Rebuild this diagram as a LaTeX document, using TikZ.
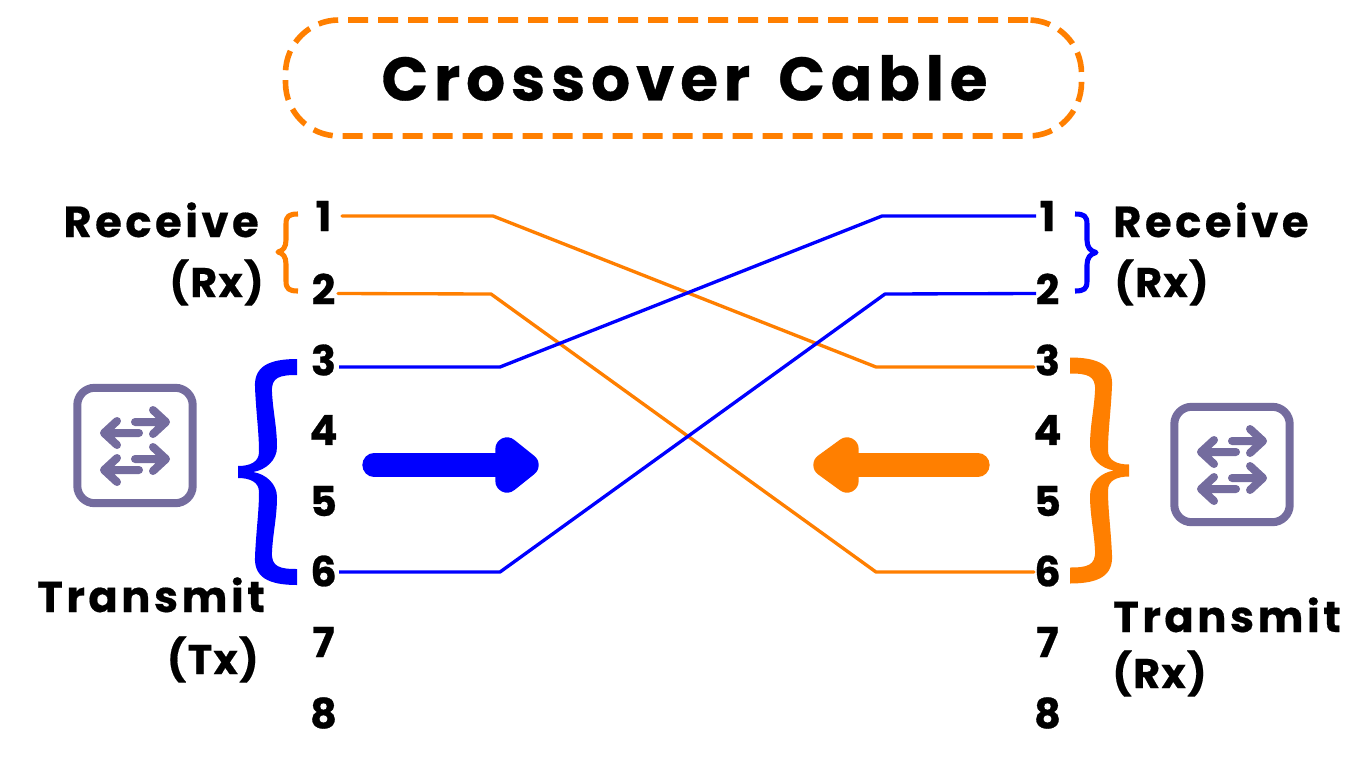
\documentclass[tikz,border=0pt]{standalone}
\usepackage{fontspec}
\setmainfont{Poppins}
\newfontfamily\titlefont[LetterSpace=9.5,WordSpace=1.5,Ligatures=NoCommon,FakeBold=0.5]{Poppins}
\newfontfamily\labelfont[LetterSpace=8,Ligatures=NoCommon,FakeBold=0.4]{Poppins}
\newfontfamily\parenfont[LetterSpace=3,Ligatures=NoCommon,FakeBold=0.4]{Poppins}
\newfontfamily\digitfont[FakeBold=0.7]{Poppins}
\definecolor{cblue}{HTML}{0000FF}
\definecolor{corange}{HTML}{FF7F00}
\definecolor{cicon}{HTML}{746C9E}
\tikzset{
  titlebox/.style={draw=corange,line width=4.2pt,rounded corners=40pt,dash pattern=on 15pt off 7.5pt,minimum width=597pt,minimum height=87pt},
  digit/.style={font=\digitfont\fontsize{31}{31}\selectfont\bfseries,text=black,inner sep=0pt},
  lab/.style={font=\labelfont\fontsize{32.5}{37}\selectfont\bfseries,text=black,inner sep=0pt,align=left},
  parenlab/.style={font=\parenfont\fontsize{31}{37}\selectfont\bfseries,text=black,inner sep=0pt,align=left},
  wire/.style={line width=2.5pt,line join=round},
  bigarrow/.style={line width=17.5pt,line cap=round,line join=round},
  smallbrace/.style={line width=3.8pt,line cap=butt,line join=round},
  iconline/.style={draw=cicon,line width=6pt,line cap=round,line join=round},
}
\newcommand{\swicon}[1]{%
  \begin{scope}[shift={#1}]
    \draw[draw=cicon,line width=6pt,rounded corners=13pt] (-57.7,-57.7) rectangle (57.7,57.7);
    \foreach \dy in {0,37}{
      \draw[iconline] (0,{-23.5+\dy}) -- (31,{-23.5+\dy}) (18,{-35.5+\dy}) -- (31,{-23.5+\dy}) -- (18,{-11.5+\dy});
      \draw[iconline] (4,{-12.5+\dy}) -- (-31,{-12.5+\dy}) (-18,{-24.5+\dy}) -- (-31,{-12.5+\dy}) -- (-18,{-0.5+\dy});
    }
  \end{scope}}
\newcommand{\bigbrace}{%
  (59,-113) -- (59,-97) .. controls (42,-97) and (33,-95) .. (34,-80)
  .. controls (35,-60) and (39,-45) .. (39,-25)
  .. controls (39,-12) and (28,-2) .. (15,0)
  .. controls (28,2) and (39,12) .. (39,25)
  .. controls (39,45) and (35,60) .. (34,80)
  .. controls (33,95) and (42,97) .. (59,97)
  -- (59,113) .. controls (30,113) and (16,105) .. (17,85)
  .. controls (18,60) and (21,40) .. (21,20)
  .. controls (21,10) and (12,6) .. (0,6)
  -- (0,-6) .. controls (12,-6) and (21,-10) .. (21,-20)
  .. controls (21,-40) and (18,-60) .. (17,-85)
  .. controls (16,-105) and (30,-113) .. (59,-113) -- cycle}
\begin{document}
\begin{tikzpicture}[x=0.75pt,y=-0.75pt]
\useasboundingbox (0,0) rectangle (1366,768);
\fill[white] (0,0) rectangle (1366,768);

\node[titlebox] (title) at (683.5,78) {};
\node[font=\titlefont\fontsize{46}{46}\selectfont\bfseries,inner sep=0pt] (titletext) at (684.5,78) {Crossover Cable};

\foreach \n/\y in {1/216,2/289,3/360,4/430,5/501,6/571,7/642,8/713}{
  \node[digit] (l\n) at (323.5,\y) {\n};
  \node[digit] (r\n) at (1047.5,\y) {\n};
}

% wires
\coordinate (o1) at (493,216); \coordinate (o1b) at (876,367);
\coordinate (o2) at (491,294); \coordinate (o2b) at (876,572);
\coordinate (b1) at (500,367); \coordinate (b1b) at (882,216);
\coordinate (b2) at (500,572); \coordinate (b2b) at (885,294);
\coordinate (pl1) at (342,216); \coordinate (pl2) at (338,293.5); \coordinate (pl3) at (339,367); \coordinate (pl6) at (339,572);
\coordinate (pr1) at (1036,216); \coordinate (pr2) at (1036,293.5); \coordinate (pr3) at (1034,367); \coordinate (pr6) at (1034,572);
\draw[wire,corange,line cap=round] (pl1) -- (o1) -- (o1b) -- (pr3);
\draw[wire,corange,line cap=round] (pl2) -- (o2) -- (o2b) -- (pr6);
\draw[wire,cblue] (pl3) -- (b1) -- (b1b) -- (pr1);
\draw[wire,cblue] (pl6) -- (b2) -- (b2b) -- (pr2);

% braces
\fill[cblue,shift={(238,472)}] \bigbrace;
\fill[corange,shift={(1129,470.5)},xscale=-1] \bigbrace;
\draw[smallbrace,corange] (298,214) .. controls (289,214) and (286,216) .. (286,224) -- (286,240) .. controls (286,247) and (283,251) .. (278,252) .. controls (283,253) and (286,257) .. (286,264) -- (286,281) .. controls (286,289) and (289,291) .. (298,291);
\draw[smallbrace,cblue] (1075,214) .. controls (1084,214) and (1087,216) .. (1087,224) -- (1087,240) .. controls (1087,247) and (1090,251) .. (1096,252.5) .. controls (1090,254) and (1087,258) .. (1087,265) -- (1087,281) .. controls (1087,289) and (1084,291) .. (1075,291);

% arrows
\draw[bigarrow,cblue] (374,465) -- (510,465);
\draw[bigarrow,cblue,fill=cblue] (507,449) -- (527,465) -- (507,481) -- cycle;
\draw[bigarrow,corange] (978,465) -- (845,465);
\draw[bigarrow,corange,fill=corange] (847,449) -- (825,465) -- (847,481) -- cycle;

% icons
\swicon{(135,445.5)}
\swicon{(1232,464.5)}

% labels
\node[lab,anchor=base east] (lrecv) at (259,237) {Receive};
\node[parenlab,anchor=base east] (lrx) at (264,297) {(Rx)};
\node[lab,anchor=base west] (rrecv) at (1113,237) {Receive};
\node[parenlab,anchor=base west] (rrx) at (1114,297) {(Rx)};
\node[lab,anchor=base west] (ltx) at (37,612) {Transmit};
\node[parenlab,anchor=base east] (ltx2) at (259,674) {(Tx)};
\node[lab,anchor=base west] (rtx) at (1113,632) {Transmit};
\node[parenlab,anchor=base west] (rtx2) at (1112,688) {(Rx)};
\end{tikzpicture}
\end{document}
